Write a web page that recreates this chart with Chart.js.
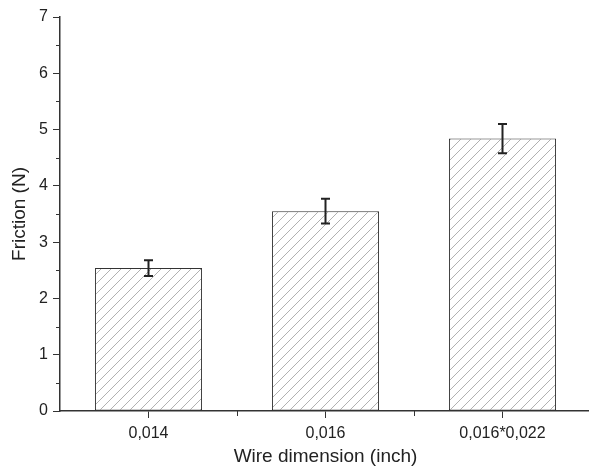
<!DOCTYPE html>
<html>
<head>
<meta charset="utf-8">
<script src="https://cdn.jsdelivr.net/npm/chart.js@4/dist/chart.umd.min.js"></script>
<style>
  html, body { margin: 0; padding: 0; background: #fff; overflow: hidden; }
  #wrap { width: 592px; height: 468px; }
</style>
</head>
<body>
<div id="wrap"><canvas id="c" width="592" height="468"></canvas></div>
<script>
// Friction measured for each archwire size, with standard deviation
const wireSizes = ['0,014', '0,016', '0,016*0,022'];
const frictionMean = [2.54, 3.55, 4.84];
const frictionSD = [0.14, 0.22, 0.26];
const yTicks = [0, 1, 2, 3, 4, 5, 6, 7];

const INK = '#222';
const FONT = "'Liberation Sans', Arial, sans-serif";

// Diagonal hatch fill for the bars
function hatch() {
  const s = 10;
  const t = document.createElement('canvas');
  t.width = s; t.height = s;
  const g = t.getContext('2d');
  g.fillStyle = '#fff';
  g.fillRect(0, 0, s, s);
  g.strokeStyle = '#a8a8a8';
  g.lineWidth = 0.9;
  g.beginPath();
  g.moveTo(0, s); g.lineTo(s, 0);
  g.moveTo(-1, 1); g.lineTo(1, -1);
  g.moveTo(s - 1, s + 1); g.lineTo(s + 1, s - 1);
  g.stroke();
  return document.getElementById('c').getContext('2d').createPattern(t, 'repeat');
}

// Error bars and minor tick marks, positioned through the chart's scales
const extras = {
  id: 'extras',
  afterDatasetsDraw(chart) {
    const ctx = chart.ctx;
    const x = chart.scales.x, y = chart.scales.y;
    ctx.save();
    ctx.strokeStyle = INK;
    ctx.lineWidth = 2;
    frictionMean.forEach((m, i) => {
      const px = x.getPixelForValue(i);
      const top = y.getPixelForValue(m + frictionSD[i]);
      const bot = y.getPixelForValue(m - frictionSD[i]);
      ctx.beginPath();
      ctx.moveTo(px, top); ctx.lineTo(px, bot);
      ctx.moveTo(px - 4.5, top); ctx.lineTo(px + 4.5, top);
      ctx.moveTo(px - 4.5, bot); ctx.lineTo(px + 4.5, bot);
      ctx.stroke();
    });
    // minor ticks
    ctx.strokeStyle = '#333';
    ctx.lineWidth = 1;
    const left = chart.chartArea.left, bottom = chart.chartArea.bottom;
    for (let k = 0; k < yTicks.length - 1; k++) {
      const py = Math.round(y.getPixelForValue(yTicks[k] + 0.5)) + 0.5;
      ctx.beginPath(); ctx.moveTo(left - 4, py); ctx.lineTo(left, py); ctx.stroke();
    }
    for (let i = 0; i < wireSizes.length - 1; i++) {
      const px = Math.round(x.getPixelForValue(i + 0.5)) + 0.5;
      ctx.beginPath(); ctx.moveTo(px, bottom); ctx.lineTo(px, bottom + 5); ctx.stroke();
    }
    ctx.restore();
  }
};

new Chart(document.getElementById('c'), {
  type: 'bar',
  data: {
    labels: wireSizes,
    datasets: [{
      data: frictionMean,
      backgroundColor: hatch(),
      borderColor: '#333',
      borderWidth: 1,
      borderSkipped: false,
      categoryPercentage: 1,
      barPercentage: 0.605
    }]
  },
  options: {
    responsive: false,
    animation: false,
    events: [],
    layout: { padding: { top: 17, right: 1, left: 0, bottom: 0 } },
    plugins: { legend: { display: false }, tooltip: { enabled: false } },
    scales: {
      x: {
        type: 'category',
        offset: true,
        afterFit(s) { s.height = 57; },
        grid: { display: true, offset: false, drawOnChartArea: false, drawTicks: true, tickLength: 7, color: '#333', lineWidth: 1 },
        border: { display: true, color: '#333', width: 1.5 },
        ticks: { color: INK, font: { family: FONT, size: 16 }, padding: 6, maxRotation: 0 },
        title: { display: true, text: 'Wire dimension (inch)', color: INK, font: { family: FONT, size: 19 }, padding: { top: 0, bottom: 0 } }
      },
      y: {
        min: 0, max: 7,
        afterFit(s) { s.width = 60; },
        afterBuildTicks(s) { s.ticks = yTicks.map(v => ({ value: v })); },
        grid: { display: true, drawOnChartArea: false, drawTicks: true, tickLength: 7, color: '#333', lineWidth: 1 },
        border: { display: true, color: '#333', width: 1.5 },
        ticks: { color: INK, font: { family: FONT, size: 16 }, padding: 5 },
        title: { display: true, text: 'Friction (N)', color: INK, font: { family: FONT, size: 19 }, padding: { top: 8, bottom: 0 } }
      }
    }
  },
  plugins: [extras]
});
</script>
</body>
</html>
